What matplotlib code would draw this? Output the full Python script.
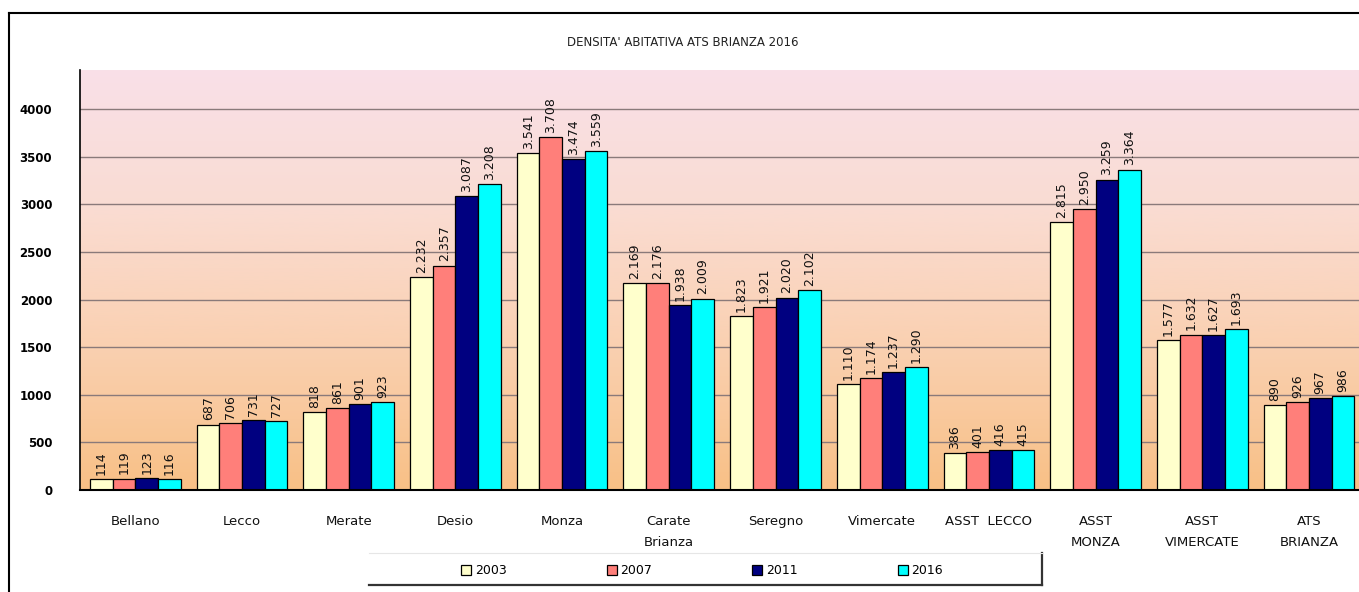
import numpy as np
import matplotlib
matplotlib.use("Agg")
import matplotlib.pyplot as plt
from matplotlib.colors import LinearSegmentedColormap
from matplotlib.lines import Line2D

categories = ["Bellano", "Lecco", "Merate", "Desio", "Monza", "Carate\nBrianza",
              "Seregno", "Vimercate", "ASST  LECCO", "ASST\nMONZA",
              "ASST\nVIMERCATE", "ATS\nBRIANZA"]
years = ["2003", "2007", "2011", "2016"]
v2003 = [114, 687, 818, 2232, 3541, 2169, 1823, 1110, 386, 2815, 1577, 890]
v2007 = [119, 706, 861, 2357, 3708, 2176, 1921, 1174, 401, 2950, 1632, 926]
v2011 = [123, 731, 901, 3087, 3474, 1938, 2020, 1237, 416, 3259, 1627, 967]
v2016 = [116, 727, 923, 3208, 3559, 2009, 2102, 1290, 415, 3364, 1693, 986]
yticks = [0, 500, 1000, 1500, 2000, 2500, 3000, 3500, 4000]
title = "DENSITA' ABITATIVA ATS BRIANZA 2016"

series = [v2003, v2007, v2011, v2016]
colors = ["#FFFFCC", "#FF7F7A", "#000080", "#00FFFF"]

W, H = 1359, 592
fig = plt.figure(figsize=(W / 100, H / 100), dpi=100)
fig.patch.set_facecolor("white")

left_px, right_px, top_px, bot_px = 80, 1359, 70, 490
ax = fig.add_axes([left_px / W, 1 - bot_px / H, (right_px - left_px) / W, (bot_px - top_px) / H])

# gradient background
cmap = LinearSegmentedColormap.from_list("bg", ["#F8C086", "#FAD0B0", "#FADCD2", "#F9E0E8"])
grad = np.linspace(0, 1, 256).reshape(-1, 1)
ax.imshow(grad, cmap=cmap, aspect="auto", extent=[0, 1, 0, 1], origin="lower",
          transform=ax.transAxes, zorder=0)

x = np.arange(len(categories))
bw = 0.2125
for i, (vals, col, yr) in enumerate(zip(series, colors, years)):
    bars = ax.bar(x + (i - 1.5) * bw, vals, width=bw, color=col, edgecolor="black",
                  linewidth=0.9, zorder=3, label=yr)
    ax.bar_label(bars, labels=[f"{v:,}".replace(",", ".") for v in vals],
                 rotation=90, padding=3, fontsize=9, color="#111111", zorder=4)

ax.set_xlim(-0.52, 11.47)
ax.set_ylim(0, 4410)
ax.set_yticks(yticks)
ax.set_yticklabels([str(t) for t in yticks], fontsize=8.5, fontweight="bold")
ax.yaxis.grid(True, color="#8a7a7a", linewidth=1.0, zorder=1)
ax.set_axisbelow(True)
ax.tick_params(axis="y", length=0, pad=20)
ax.set_xticks(x)
ax.set_xticklabels(categories, fontsize=9.5, linespacing=1.75, color="#111111")
ax.tick_params(axis="x", length=0, pad=18)
for s in ["top", "right"]:
    ax.spines[s].set_visible(False)
ax.spines["left"].set_color("black")
ax.spines["left"].set_linewidth(1.2)
ax.spines["bottom"].set_color("black")
ax.spines["bottom"].set_linewidth(1.5)
ax.spines["left"].set_zorder(5)
ax.spines["bottom"].set_zorder(5)

fig.text(0.5025, 1 - 43 / H, title, ha="center", va="center", fontsize=8.5, color="#222222")

leg = fig.legend(loc="center", bbox_to_anchor=(702 / W, 1 - 571 / H), ncol=4,
                 frameon=False, fontsize=9, handlelength=0.8, handleheight=0.8,
                 handletextpad=0.3, columnspacing=8.0)

# outer chart border
fig.add_artist(Line2D([9 / W, 9 / W], [0, 1 - 13 / H], color="black", lw=1.5,
                      transform=fig.transFigure))
fig.add_artist(Line2D([9 / W, 1], [1 - 13 / H, 1 - 13 / H], color="black", lw=1.5,
                      transform=fig.transFigure))
# legend box (light top/left, dark shadow bottom/right)
lx0, lx1, ly0, ly1 = 369, 1042, 553, 585
fig.add_artist(Line2D([lx0 / W, lx1 / W], [1 - ly1 / H] * 2, color="#333333", lw=1.6,
                      transform=fig.transFigure))
fig.add_artist(Line2D([lx1 / W] * 2, [1 - ly0 / H, 1 - ly1 / H], color="#333333", lw=1.6,
                      transform=fig.transFigure))
fig.add_artist(Line2D([lx0 / W, lx1 / W], [1 - ly0 / H] * 2, color="#e6e6e6", lw=0.8,
                      transform=fig.transFigure))

fig.savefig("out.png", dpi=100)
